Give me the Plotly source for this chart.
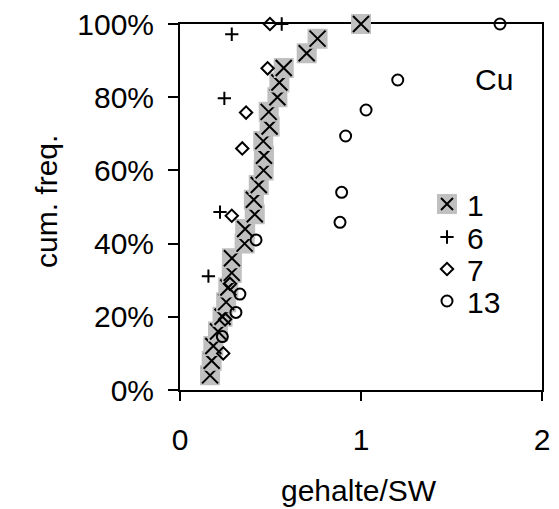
import plotly.graph_objects as go

# Cumulative frequency of Cu contents (gehalte / SW) for four sample groups
s1_x = [0.166, 0.175, 0.184, 0.21, 0.235, 0.255, 0.267, 0.286, 0.287, 0.357,
        0.36, 0.413, 0.408, 0.435, 0.462, 0.464, 0.46, 0.495, 0.49, 0.538,
        0.549, 0.573, 0.70, 0.76, 1.0]
s1_y = [0.04, 0.08, 0.12, 0.16, 0.20, 0.24, 0.28, 0.32, 0.36, 0.40,
        0.44, 0.48, 0.52, 0.56, 0.60, 0.64, 0.68, 0.72, 0.76, 0.80,
        0.84, 0.88, 0.92, 0.96, 1.00]

s6_x = [0.157, 0.221, 0.245, 0.286, 0.562]
s6_y = [0.311, 0.486, 0.797, 0.972, 1.0]

s7_x = [0.239, 0.249, 0.276, 0.286, 0.344, 0.365, 0.484, 0.497]
s7_y = [0.100, 0.193, 0.290, 0.476, 0.660, 0.758, 0.879, 1.0]

s13_x = [0.234, 0.309, 0.331, 0.420, 0.884, 0.893, 0.915, 1.028, 1.203, 1.768]
s13_y = [0.146, 0.212, 0.262, 0.410, 0.458, 0.540, 0.694, 0.765, 0.847, 1.0]

series_names = ["1", "6", "7", "13"]
x_ticks = [0, 1, 2]
x_tick_labels = ["0", "1", "2"]
y_ticks = [0, 0.2, 0.4, 0.6, 0.8, 1.0]
y_tick_labels = ["0%", "20%", "40%", "60%", "80%", "100%"]

FONT = "Liberation Sans, Arial, sans-serif"
FS = 30
W, H = 559, 509
ML, MR, MT, MB = 180, 17, 24, 119
PW, PH = W - ML - MR, H - MT - MB


def px_x(px):
    return (px - ML) / PW


def px_y(py):
    return (H - MB - py) / PH


fig = go.Figure()

# Group 1: grey square background with an x on top, drawn point by point
for i, (xv, yv) in enumerate(zip(s1_x, s1_y)):
    fig.add_trace(go.Scatter(
        x=[xv], y=[yv], mode="markers", name="",
        marker=dict(symbol="square", size=16, color="#c0c0c0",
                    line=dict(color="#c0c0c0", width=4)),
        showlegend=(i == 0), legend="legend", cliponaxis=False,
        hoverinfo="skip"))
    fig.add_trace(go.Scatter(
        x=[xv], y=[yv], mode="markers", name=series_names[0],
        marker=dict(symbol="x-thin", size=16, color="black",
                    line=dict(color="black", width=2)),
        showlegend=(i == 0), legend="legend2", cliponaxis=False))

fig.add_trace(go.Scatter(
    x=s6_x, y=s6_y, mode="markers", name=series_names[1],
    marker=dict(symbol="cross-thin", size=9.5, color="black",
                line=dict(color="black", width=2)),
    legend="legend3", cliponaxis=False))

fig.add_trace(go.Scatter(
    x=s7_x, y=s7_y, mode="markers", name=series_names[2],
    marker=dict(symbol="diamond-open", size=9.5, color="black",
                line=dict(color="black", width=2)),
    legend="legend4", cliponaxis=False))

fig.add_trace(go.Scatter(
    x=s13_x, y=s13_y, mode="markers", name=series_names[3],
    marker=dict(symbol="circle-open", size=11, color="black",
                line=dict(color="black", width=2)),
    legend="legend5", cliponaxis=False))

axis_common = dict(
    showline=True, linecolor="black", linewidth=2, mirror=True,
    ticks="outside", tickcolor="black", tickwidth=1.5,
    showgrid=False, zeroline=False, layer="below traces",
    tickfont=dict(family=FONT, size=FS, color="black"),
)

legend_common = dict(
    xanchor="left", yanchor="middle", bgcolor="rgba(0,0,0,0)",
    borderwidth=0, font=dict(family=FONT, size=FS, color="black"),
)

leg_left = px_x(427)

fig.update_layout(
    width=W, height=H,
    margin=dict(l=ML, r=MR, t=MT, b=MB, autoexpand=False),
    paper_bgcolor="white", plot_bgcolor="white",
    font=dict(family=FONT, size=FS, color="black"),
    xaxis=dict(range=[0, 2], tickvals=x_ticks, ticktext=x_tick_labels,
               ticklen=9, ticklabelstandoff=13, **axis_common),
    yaxis=dict(range=[0, 1], tickvals=y_ticks, ticktext=y_tick_labels,
               ticklen=10, ticklabelstandoff=8, **axis_common),
    legend=dict(x=leg_left, y=px_y(204), itemsizing="trace", **legend_common),
    legend2=dict(x=leg_left, y=px_y(204), itemsizing="constant", **legend_common),
    legend3=dict(x=leg_left, y=px_y(237), itemsizing="trace", **legend_common),
    legend4=dict(x=leg_left, y=px_y(269), itemsizing="trace", **legend_common),
    legend5=dict(x=leg_left, y=px_y(301), itemsizing="trace", **legend_common),
    annotations=[
        dict(text="Cu", xref="paper", yref="paper", x=px_x(494), y=px_y(80),
             showarrow=False, xanchor="center", yanchor="middle",
             font=dict(family=FONT, size=FS, color="black")),
        dict(text="gehalte/SW", xref="paper", yref="paper", x=px_x(359),
             y=px_y(490), showarrow=False, xanchor="center", yanchor="middle",
             font=dict(family=FONT, size=FS, color="black")),
        dict(text="cum. freq.", xref="paper", yref="paper", x=px_x(46),
             y=px_y(202), showarrow=False, xanchor="center", yanchor="middle",
             textangle=-90, font=dict(family=FONT, size=FS, color="black")),
    ],
)

fig.write_html("out.html")
